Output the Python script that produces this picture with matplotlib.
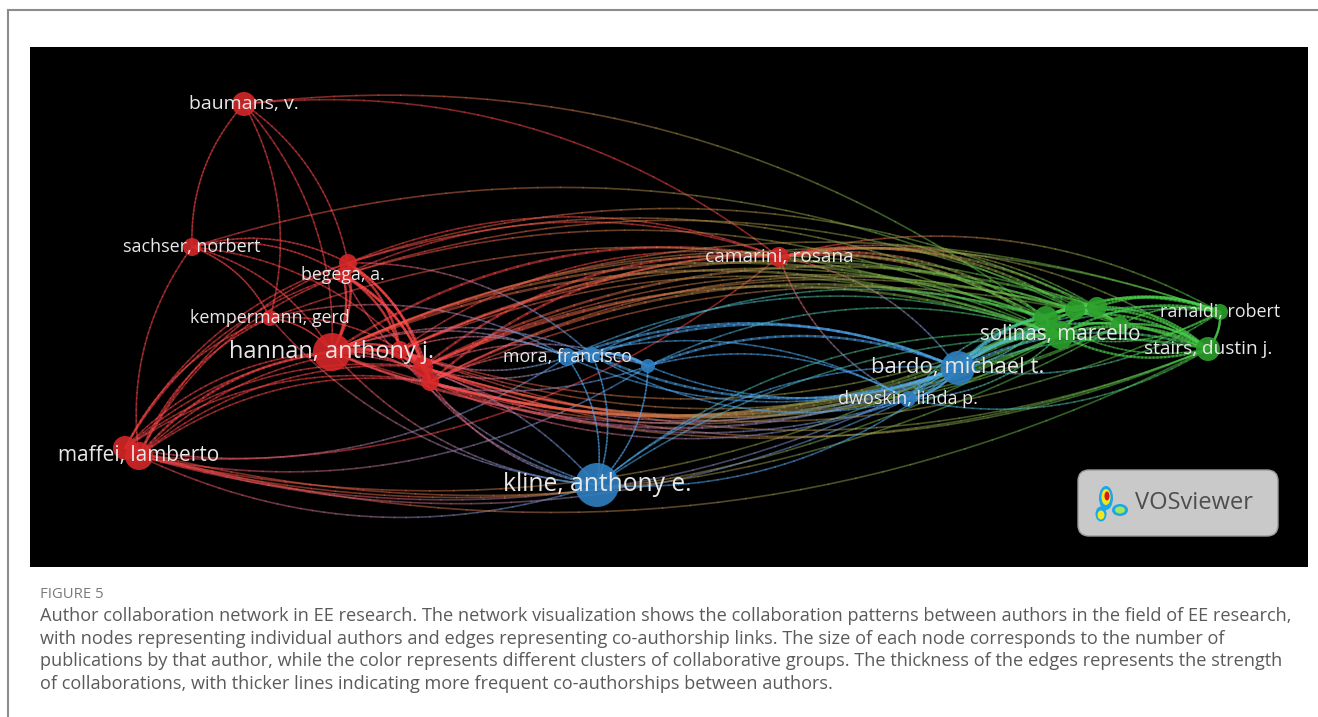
import numpy as np
import matplotlib
matplotlib.use("Agg")
import matplotlib.pyplot as plt
from matplotlib.collections import LineCollection
from matplotlib.patches import Circle, FancyBboxPatch, Ellipse
from matplotlib.lines import Line2D
from matplotlib.colors import to_rgb

W, H = 1318, 717

# cluster colours (VOSviewer defaults)
cluster_colors = {"red": "#d62728", "blue": "#2f7fc1", "green": "#2ca02c"}

# nodes: label, x, y (pixels in the map), radius, cluster, label font size
node_labels = ["baumans, v.", "sachser, norbert", "", "begega, a.", "kempermann, gerd",
               "hannan, anthony j.", "", "", "", "", "maffei, lamberto", "camarini, rosana",
               "mora, francisco", "", "", "kline, anthony e.", "bardo, michael t.",
               "dwoskin, linda p.", "solinas, marcello", "", "", "", "ranaldi, robert",
               "stairs, dustin j.", ""]
node_x = [244, 192, 348, 343, 270, 332, 400, 423, 430, 125, 139, 779,
          567, 592, 648, 597, 958, 908, 1060, 1046, 1097, 1120, 1220, 1208, 1075]
node_y = [104, 247, 263, 275, 318, 352, 350, 367, 382, 448, 456, 257,
          357, 355, 366, 485, 368, 399, 335, 318, 307, 325, 312, 349, 310]
node_r = [12, 9, 9, 8, 8, 19, 9, 10, 9, 12, 14, 10,
          9, 8, 7, 22, 17, 8, 14, 12, 10, 9, 8, 12, 10]
node_cluster = ["red"] * 12 + ["blue"] * 6 + ["green"] * 7
label_size = [14, 13, 0, 12.8, 12.9, 17, 0, 0, 0, 0, 15, 13.8,
              12.9, 0, 0, 17.7, 15.9, 13, 14.9, 0, 0, 0, 12.9, 13.7, 0]

# co-authorship links: source, target, strength
edges = [
    (1, 0, 1), (0, 2, 1), (0, 5, 1), (10, 1, 1), (0, 11, 1), (1, 24, 1), (0, 19, 1),
    (1, 2, 1), (1, 4, 1), (1, 5, 1), (1, 7, 1), (1, 3, 1), (0, 4, 1),
    (2, 5, 2), (3, 5, 2), (2, 7, 2), (3, 8, 2), (4, 5, 1), (4, 7, 1), (2, 8, 2), (3, 7, 2),
    (5, 6, 2), (5, 7, 3), (5, 8, 2), (6, 7, 2), (7, 8, 2), (6, 8, 2), (2, 6, 2), (3, 6, 2),
    (9, 5, 1), (10, 5, 2), (10, 7, 1), (10, 8, 1), (9, 6, 1), (10, 4, 1), (9, 3, 1), (10, 2, 1),
    (9, 7, 1), (10, 6, 1), (9, 8, 1), (9, 2, 1), (10, 3, 1), (9, 4, 1),
    (16, 10, 1), (18, 10, 1), (15, 10, 1), (23, 9, 1), (11, 10, 1), (17, 9, 1), (19, 10, 1),
    (14, 10, 1), (21, 9, 1), (12, 9, 1),
    (5, 11, 2), (7, 11, 2), (6, 11, 1), (3, 11, 1), (8, 11, 2), (2, 11, 1),
    (11, 18, 3), (11, 19, 2), (11, 16, 1), (11, 23, 1), (11, 20, 1), (11, 24, 2), (11, 21, 2),
    (11, 22, 1), (17, 11, 1),
    (5, 18, 2), (5, 19, 2), (7, 18, 2), (6, 19, 1), (8, 24, 1), (2, 20, 1), (3, 21, 1),
    (7, 23, 1), (5, 22, 1), (4, 18, 1), (2, 19, 1), (6, 18, 1), (7, 20, 2), (8, 19, 2),
    (6, 24, 2), (7, 21, 1), (8, 23, 1), (5, 24, 1), (3, 18, 1), (6, 22, 1), (5, 20, 1),
    (23, 5, 1), (18, 8, 1), (16, 7, 1), (16, 5, 1), (18, 7, 2), (19, 8, 2), (24, 6, 1),
    (21, 5, 1), (23, 7, 1), (17, 8, 1), (20, 8, 2), (23, 6, 1), (22, 7, 1), (24, 8, 2),
    (18, 6, 1), (21, 7, 1), (16, 8, 2), (17, 7, 1),
    (12, 13, 2), (12, 14, 1), (13, 14, 2), (12, 15, 1), (13, 15, 1), (14, 15, 1),
    (15, 16, 1), (16, 15, 1), (12, 16, 2), (13, 16, 2), (14, 16, 2), (14, 17, 1),
    (12, 17, 1), (16, 17, 2), (16, 12, 1), (16, 13, 2), (16, 14, 1), (17, 13, 1),
    (5, 12, 1), (5, 13, 1), (6, 12, 1), (7, 14, 1), (4, 12, 1), (2, 13, 1), (15, 5, 1),
    (5, 15, 1), (15, 8, 1), (15, 4, 1), (8, 14, 1), (12, 6, 1), (14, 5, 1), (13, 7, 1),
    (15, 6, 1), (15, 3, 1),
    (16, 18, 3), (16, 19, 2), (16, 23, 2), (16, 22, 1), (17, 18, 2), (17, 23, 1),
    (12, 18, 1), (13, 19, 1), (14, 18, 1), (15, 18, 1), (15, 23, 1), (22, 16, 1), (23, 17, 1),
    (16, 20, 2), (16, 21, 2), (16, 24, 1), (17, 19, 1), (17, 22, 1), (18, 17, 1), (19, 16, 1),
    (18, 19, 3), (18, 20, 2), (18, 21, 2), (18, 22, 2), (18, 23, 3), (19, 20, 2), (19, 24, 2),
    (20, 22, 2), (21, 23, 2), (22, 23, 2), (24, 22, 2), (20, 23, 2), (19, 23, 2),
    (21, 22, 1), (23, 19, 1), (22, 18, 1), (24, 23, 2), (19, 22, 2), (23, 18, 2), (24, 21, 2),
]

caption_head = "FIGURE 5"
caption_lines = [
    "Author collaboration network in EE research. The network visualization shows the collaboration patterns between authors in the field of EE research,",
    "with nodes representing individual authors and edges representing co-authorship links. The size of each node corresponds to the number of",
    "publications by that author, while the color represents different clusters of collaborative groups. The thickness of the edges represents the strength",
    "of collaborations, with thicker lines indicating more frequent co-authorships between authors.",
]


def curve(x0, y0, x1, y1, k=0.2, n=40):
    # quadratic bezier bending to the left of the direction of travel
    dx, dy = x1 - x0, y1 - y0
    cx = (x0 + x1) / 2 + k * dy
    cy = (y0 + y1) / 2 - k * dx
    t = np.linspace(0, 1, n)[:, None]
    p0 = np.array([x0, y0])
    p1 = np.array([cx, cy])
    p2 = np.array([x1, y1])
    return (1 - t) ** 2 * p0 + 2 * (1 - t) * t * p1 + t ** 2 * p2


fig = plt.figure(figsize=(W / 100, H / 100), dpi=100)
fig.patch.set_facecolor("white")

# page frame
fig.add_artist(Line2D([8 / W, 1], [1 - 10 / H, 1 - 10 / H], color="#8c8c8c", lw=1.5))
fig.add_artist(Line2D([8 / W, 8 / W], [0, 1 - 10 / H], color="#8c8c8c", lw=1.5))

x0, x1, y0, y1 = 30, 1308, 47, 567
ax = fig.add_axes([x0 / W, 1 - y1 / H, (x1 - x0) / W, (y1 - y0) / H])
ax.set_facecolor("black")
ax.set_xlim(x0, x1)
ax.set_ylim(y1, y0)
ax.set_xticks([])
ax.set_yticks([])
for s in ax.spines.values():
    s.set_visible(False)

# edges with colour gradient from one node to the other
segs, cols, widths = [], [], []
for a, b, w in edges:
    pts = curve(node_x[a], node_y[a], node_x[b], node_y[b])
    ca = np.array(to_rgb(cluster_colors[node_cluster[a]]))
    cb = np.array(to_rgb(cluster_colors[node_cluster[b]]))
    n = len(pts) - 1
    for i in range(n):
        f = (i + 0.5) / n
        c = ca * (1 - f) + cb * f
        c = np.clip(c * 1.15 + 0.1, 0, 1)
        segs.append(pts[i:i + 2])
        cols.append((*c, 0.5))
        widths.append(0.6 + 0.6 * w)
ax.add_collection(LineCollection(segs, colors=cols, linewidths=widths, zorder=1,
                                 capstyle="round"))

# nodes
for i in range(len(node_x)):
    col = cluster_colors[node_cluster[i]]
    ax.add_patch(Circle((node_x[i], node_y[i]), node_r[i], facecolor=col,
                        edgecolor="none", alpha=0.9, zorder=2))

# labels
for i, lab in enumerate(node_labels):
    if lab:
        ax.text(node_x[i], node_y[i], lab, fontsize=label_size[i], family="Open Sans",
                color="#e8e8e8", ha="center", va="center", zorder=3)

# VOSviewer badge
ax.add_patch(FancyBboxPatch((1078, 470), 200, 66, boxstyle="round,pad=0,rounding_size=11",
                            facecolor="#c9c9c9", edgecolor="#9a9a9a", lw=1, zorder=4))
for (ex, ey, ew, eh, c) in [(1106, 498, 14, 24, "#1aa7e8"), (1101, 514, 11, 15, "#1aa7e8"),
                            (1120, 510, 16, 12, "#1aa7e8"), (1106, 497, 9, 16, "#f5e61c"),
                            (1101, 515, 7, 9, "#f5e61c"), (1120, 510, 10, 7, "#a6e65a"),
                            (1107, 496, 5, 9, "#d7191c")]:
    ax.add_patch(Ellipse((ex, ey), ew, eh, facecolor=c, edgecolor="none", zorder=5))
ax.text(1135, 503, "VOSviewer", fontsize=17, family="Open Sans", color="#4d4d4d",
        ha="left", va="center", zorder=5)

# caption
fig.text(40 / W, 1 - 594 / H, caption_head, fontsize=10.7, family="Open Sans",
         color="#7a7a7a", ha="left", va="center")
for k, line in enumerate(caption_lines):
    fig.text(40 / W, 1 - (616 + 22.7 * k) / H, line, fontsize=13.1, family="Open Sans",
             color="#5a5a5a", ha="left", va="center")

plt.savefig("out.png", dpi=100, facecolor=fig.get_facecolor())
